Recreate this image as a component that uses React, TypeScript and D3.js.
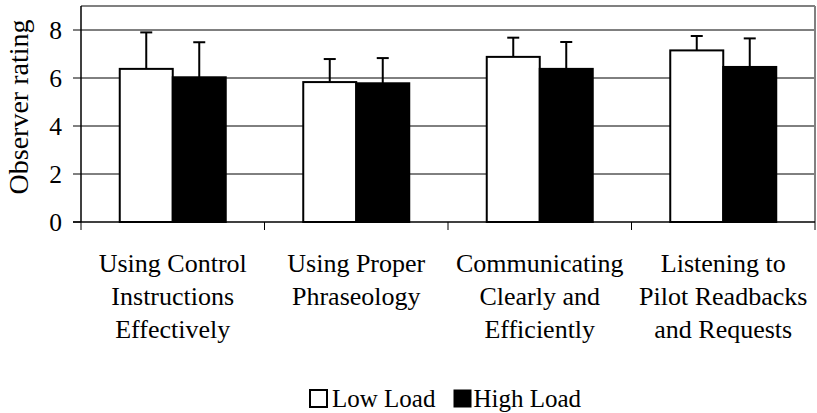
import React from "react";
import * as d3 from "d3";

const categories: string[][] = [
  ["Using Control", "Instructions", "Effectively"],
  ["Using Proper", "Phraseology"],
  ["Communicating", "Clearly and", "Efficiently"],
  ["Listening to", "Pilot Readbacks", "and Requests"],
];
const seriesNames = ["Low Load", "High Load"];
const lowLoad = [6.38, 5.83, 6.88, 7.15];
const highLoad = [6.03, 5.78, 6.38, 6.46];
const lowLoadErr = [7.9, 6.79, 7.68, 7.75];
const highLoadErr = [7.49, 6.83, 7.5, 7.65];
const yTicks = [0, 2, 4, 6, 8];

const W = 817;
const H = 413;
const left = 81;
const right = 815;
const top = 6;
const bottom = 222;
const font = "Liberation Serif, DejaVu Serif, Times New Roman, serif";

export default function App() {
  const idx = categories.map((_, i) => String(i));
  const x0 = d3.scaleBand<string>().domain(idx).range([left, right]).padding(0);
  const bw = x0.bandwidth();
  const barW = 53;
  const x1 = d3
    .scaleBand<string>()
    .domain(seriesNames)
    .range([bw / 2 - barW, bw / 2 + barW])
    .padding(0);
  const y = d3.scaleLinear().domain([0, 9]).range([bottom, top]);

  const series = [
    { name: seriesNames[0], values: lowLoad, err: lowLoadErr, fill: "#fff" },
    { name: seriesNames[1], values: highLoad, err: highLoadErr, fill: "#000" },
  ];

  const capHalf = 6;
  const ts: React.CSSProperties = { fontFamily: font };

  return (
    <svg
      width={W}
      height={H}
      style={{ position: "absolute", left: 0, top: 0, background: "#fff", fontFamily: font }}
    >
      {yTicks.filter((t) => t > 0).map((t) => (
        <line key={t} x1={left} x2={right} y1={y(t)} y2={y(t)} stroke="#000" strokeWidth={1} />
      ))}
      <line x1={left} x2={right} y1={y(9)} y2={y(9)} stroke="#808080" strokeWidth={2} />
      <line x1={right} x2={right} y1={y(9)} y2={bottom} stroke="#808080" strokeWidth={2} />

      {series.map((s) =>
        s.values.map((v, i) => {
          const bx = (x0(String(i)) as number) + (x1(s.name) as number);
          const cx = bx + x1.bandwidth() / 2;
          return (
            <g key={s.name + i}>
              <line x1={cx} x2={cx} y1={y(v)} y2={y(s.err[i])} stroke="#000" strokeWidth={2} />
              <line
                x1={cx - capHalf}
                x2={cx + capHalf}
                y1={y(s.err[i])}
                y2={y(s.err[i])}
                stroke="#000"
                strokeWidth={2}
              />
              <rect
                x={bx}
                y={y(v)}
                width={x1.bandwidth()}
                height={bottom - y(v)}
                fill={s.fill}
                stroke="#000"
                strokeWidth={2}
              />
            </g>
          );
        })
      )}

      <line x1={left} x2={left} y1={y(9)} y2={bottom} stroke="#000" strokeWidth={1.5} />
      <line x1={left - 8} x2={right} y1={bottom} y2={bottom} stroke="#000" strokeWidth={1.5} />
      {yTicks.map((t) => (
        <g key={t}>
          <line x1={left - 8} x2={left} y1={y(t)} y2={y(t)} stroke="#000" strokeWidth={1} />
          <text x={62} y={y(t)} dy="0.35em" textAnchor="end" fontSize={25.5} fill="#000" style={ts}>
            {t}
          </text>
        </g>
      ))}
      {d3.range(categories.length + 1).map((i) => {
        const xx = left + i * bw;
        return <line key={i} x1={xx} x2={xx} y1={bottom} y2={bottom + 8} stroke="#000" strokeWidth={1} />;
      })}
      {categories.map((lines, i) => {
        const cx = (x0(String(i)) as number) + bw / 2;
        return (
          <text key={i} textAnchor="middle" fontSize={26} fill="#000" style={ts}>
            {lines.map((l, j) => (
              <tspan key={j} x={cx} y={271.5 + j * 33.3}>
                {l}
              </tspan>
            ))}
          </text>
        );
      })}

      <text
        transform={`translate(28,107) rotate(-90)`}
        textAnchor="middle"
        fontSize={28}
        fill="#000"
        style={ts}
      >
        Observer rating
      </text>

      <rect x={310} y={390} width={17} height={17} fill="#fff" stroke="#000" strokeWidth={2} />
      <text x={332} y={406.5} fontSize={25} fill="#000" style={ts}>{seriesNames[0]}</text>
      <rect x={454} y={390} width={17} height={17} fill="#000" stroke="#000" strokeWidth={1} />
      <text x={473.5} y={406.5} fontSize={25} fill="#000" style={ts}>{seriesNames[1]}</text>
    </svg>
  );
}
